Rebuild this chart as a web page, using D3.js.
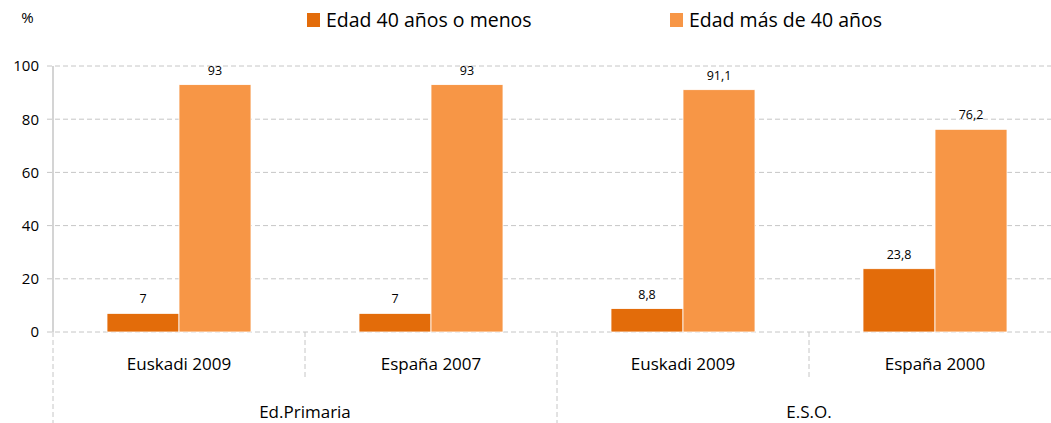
<!DOCTYPE html>
<html><head><meta charset="utf-8">
<script src="https://cdn.jsdelivr.net/npm/d3@7"></script>
<style>body{margin:0;background:#fff;} text{font-family:"Open Sans", Lato, sans-serif; fill:#000;}</style>
</head><body>
<svg id="c" width="1051" height="423"></svg>
<script>
const categories = ["Euskadi 2009","España 2007","Euskadi 2009","España 2000"];
const groups = ["Ed.Primaria","E.S.O."];
const groupOf = [0,0,1,1];
const seriesNames = ["Edad 40 años o menos","Edad más de 40 años"];
const young = [7,7,8.8,23.8];
const old = [93,93,91.1,76.2];
const yTicks = [0,20,40,60,80,100];
const colors = ["#E36C0A","#F79646"];

const svg = d3.select("#c");
const L=53, R=1061, T=66, B=332;
const x = d3.scaleBand().domain(d3.range(categories.length)).range([L,R]).paddingInner(0).paddingOuter(0);
const y = d3.scaleLinear().domain([0,100]).range([B,T]);
const xs = d3.scaleBand().domain([0,1]).range([0, x.bandwidth()]).paddingInner(0).paddingOuter(0.75);

// grid
svg.append("g").selectAll("line").data(yTicks).join("line")
  .attr("x1",L-6).attr("x2",1051).attr("y1",d=>y(d)).attr("y2",d=>y(d))
  .attr("stroke","#c6c6c6").attr("stroke-dasharray","5,3");
// y axis
const ya = svg.append("g").attr("transform",`translate(${L},0)`).call(d3.axisLeft(y).tickValues(yTicks).tickSize(0).tickPadding(14));
ya.select(".domain").remove();
ya.selectAll("text").style("font-size","15px").style("font-family","'Open Sans', sans-serif").attr("fill","#000");
svg.append("line").attr("x1",L).attr("x2",L).attr("y1",T).attr("y2",B).attr("stroke","#c6c6c6").attr("stroke-width",1.5);
svg.append("line").attr("x1",L).attr("x2",L).attr("y1",B).attr("y2",423).attr("stroke","#c6c6c6").attr("stroke-dasharray","5,3");
// separators
[1,2,3].forEach(i=>{
  const xx = x(i);
  svg.append("line").attr("x1",xx).attr("x2",xx).attr("y1",B).attr("y2", i===2?423:378)
    .attr("stroke","#c6c6c6").attr("stroke-dasharray","5,3");
});
// bars
const data = categories.map((c,i)=>({i, vals:[young[i],old[i]]}));
const g = svg.append("g");
data.forEach(d=>{
  d.vals.forEach((v,s)=>{
    const bx = x(d.i)+xs(s);
    g.append("rect").attr("x",bx).attr("y",y(v)).attr("width",xs.bandwidth()).attr("height",B-y(v))
      .attr("fill",colors[s]).attr("stroke","#fff").attr("stroke-width",0.8);
    g.append("text").attr("x",bx+xs.bandwidth()/2).attr("y",y(v)-10).attr("text-anchor","middle")
      .style("font-size","12.5px").text(String(v).replace(".",","));
  });
});
// category labels
svg.append("g").selectAll("text").data(categories).join("text")
  .attr("x",(d,i)=>x(i)+x.bandwidth()/2).attr("y",370).attr("text-anchor","middle")
  .style("font-size","17px").text(d=>d);
// group labels
groups.forEach((gname,gi)=>{
  const idx = groupOf.map((g,i)=>g===gi?i:-1).filter(i=>i>=0);
  const x0 = x(idx[0]), x1 = x(idx[idx.length-1])+x.bandwidth();
  svg.append("text").attr("x",(x0+x1)/2).attr("y",418).attr("text-anchor","middle").style("font-size","17px").text(gname);
});
// % label
svg.append("text").attr("x",27.5).attr("y",23).attr("text-anchor","middle").style("font-size","15px").text("%");
// legend
const lx=[307,670];
seriesNames.forEach((n,i)=>{
  svg.append("rect").attr("x",lx[i]).attr("y",13).attr("width",13).attr("height",14).attr("fill",colors[i]);
  svg.append("text").attr("x",lx[i]+19).attr("y",26.5).style("font-size","19.5px").text(n);
});
</script>
</body></html>
